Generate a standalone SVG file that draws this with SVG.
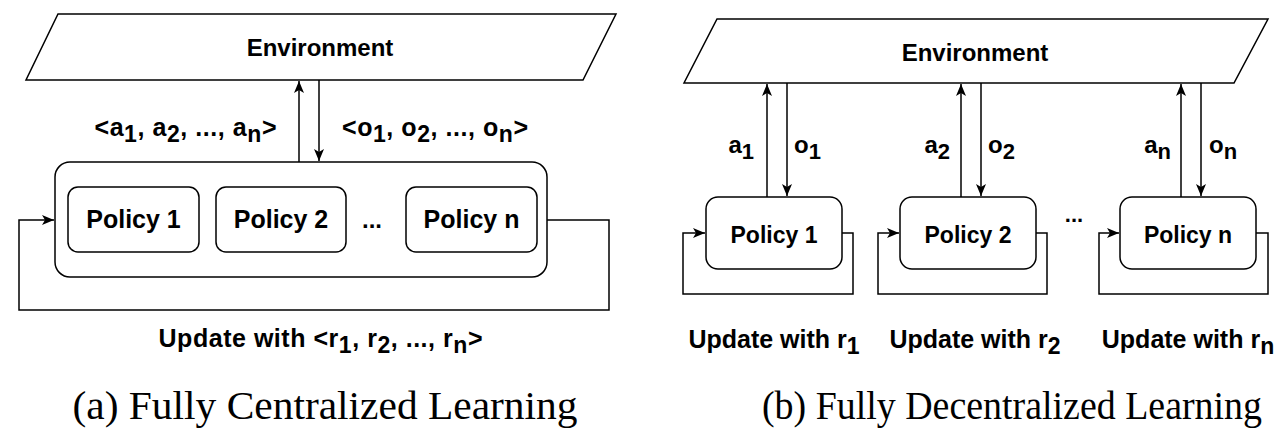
<svg xmlns="http://www.w3.org/2000/svg" width="1286" height="444" viewBox="0 0 1286 444">
<defs>
<style>
.shape{fill:#fff;stroke:#000;stroke-width:1.5}
.line{fill:none;stroke:#000;stroke-width:1.5}
.t{font-family:"Liberation Sans",Arial,sans-serif;font-weight:bold;fill:#000}
.cap{font-family:"Liberation Serif","Times New Roman",serif;fill:#000}
</style>
<marker id="arr" markerUnits="userSpaceOnUse" markerWidth="14" markerHeight="12" refX="12" refY="5" orient="auto" viewBox="0 0 14 10" overflow="visible">
<path d="M0,0 L12,5 L0,10 L3,5 z" fill="#000"/>
</marker>
</defs>
<rect width="1286" height="444" fill="#fff"/>

<!-- Panel (a) -->
<g id="envA">
<polygon class="shape" points="58,14 616,14 583,80 26,80"/>
<text class="t" x="320" y="56" font-size="24" text-anchor="middle">Environment</text>
</g>
<g id="containerA">
<rect class="shape" x="55" y="162" width="492" height="115" rx="15"/>
</g>
<g id="policyA1">
<rect class="shape" x="68" y="187" width="131" height="65" rx="10"/>
<text class="t" x="133.5" y="228" font-size="25" text-anchor="middle">Policy 1</text>
</g>
<g id="policyA2">
<rect class="shape" x="216" y="187" width="130" height="65" rx="10"/>
<text class="t" x="281" y="228" font-size="25" text-anchor="middle">Policy 2</text>
</g>
<g id="dotsA">
<text class="t" x="372" y="228" font-size="24" text-anchor="middle">...</text>
</g>
<g id="policyAn">
<rect class="shape" x="406" y="187" width="131" height="65" rx="10"/>
<text class="t" x="471.5" y="228" font-size="25" text-anchor="middle">Policy n</text>
</g>
<g id="connectorsA">
<line class="line" x1="299" y1="162" x2="299" y2="81" marker-end="url(#arr)"/>
<line class="line" x1="319" y1="80" x2="319" y2="161" marker-end="url(#arr)"/>
<polyline class="line" points="547,220 609,220 609,310 19,310 19,220 54,220" marker-end="url(#arr)"/>
</g>
<g id="labelsA" class="t" font-size="25">
<text x="185.5" y="136" text-anchor="middle" textLength="182">&lt;a<tspan font-size="23" dy="6">1</tspan><tspan dy="-6">, a</tspan><tspan font-size="23" dy="6">2</tspan><tspan dy="-6">, ..., a</tspan><tspan font-size="23" dy="6">n</tspan><tspan dy="-6">&gt;</tspan></text>
<text x="435" y="136" text-anchor="middle" textLength="186">&lt;o<tspan font-size="23" dy="6">1</tspan><tspan dy="-6">, o</tspan><tspan font-size="23" dy="6">2</tspan><tspan dy="-6">, ..., o</tspan><tspan font-size="23" dy="6">n</tspan><tspan dy="-6">&gt;</tspan></text>
<text x="320.5" y="347" text-anchor="middle" textLength="324">Update with &lt;r<tspan font-size="23" dy="6">1</tspan><tspan dy="-6">, r</tspan><tspan font-size="23" dy="6">2</tspan><tspan dy="-6">, ..., r</tspan><tspan font-size="23" dy="6">n</tspan><tspan dy="-6">&gt;</tspan></text>
</g>
<text class="cap" x="325" y="419" font-size="40" text-anchor="middle" textLength="505" lengthAdjust="spacingAndGlyphs">(a) Fully Centralized Learning</text>

<!-- Panel (b) -->
<g id="envB">
<polygon class="shape" points="717,19 1268,19 1234,83 684,83"/>
<text class="t" x="975" y="61" font-size="24" text-anchor="middle">Environment</text>
</g>
<g id="policyB1">
<rect class="shape" x="706" y="197" width="136" height="72" rx="12"/>
<text class="t" x="774" y="243" font-size="23" text-anchor="middle">Policy 1</text>
</g>
<g id="policyB2">
<rect class="shape" x="900" y="197" width="136" height="72" rx="12"/>
<text class="t" x="968" y="243" font-size="23" text-anchor="middle">Policy 2</text>
</g>
<g id="dotsB">
<text class="t" x="1074" y="222" font-size="22" text-anchor="middle">...</text>
</g>
<g id="policyBn">
<rect class="shape" x="1120" y="197" width="136" height="72" rx="12"/>
<text class="t" x="1188" y="243" font-size="23" text-anchor="middle">Policy n</text>
</g>
<g id="connectorsB">
<line class="line" x1="767" y1="197" x2="767" y2="84" marker-end="url(#arr)"/>
<line class="line" x1="787" y1="83" x2="787" y2="196" marker-end="url(#arr)"/>
<line class="line" x1="961" y1="197" x2="961" y2="84" marker-end="url(#arr)"/>
<line class="line" x1="981" y1="83" x2="981" y2="196" marker-end="url(#arr)"/>
<line class="line" x1="1181" y1="197" x2="1181" y2="84" marker-end="url(#arr)"/>
<line class="line" x1="1201" y1="83" x2="1201" y2="196" marker-end="url(#arr)"/>
<polyline class="line" points="842,233 853,233 853,294 683,294 683,233 705,233" marker-end="url(#arr)"/>
<polyline class="line" points="1036,233 1047,233 1047,294 878,294 878,233 899,233" marker-end="url(#arr)"/>
<polyline class="line" points="1256,233 1268,233 1268,294 1099,294 1099,233 1119,233" marker-end="url(#arr)"/>
</g>
<g id="labelsB" class="t" font-size="24">
<text x="754" y="153" text-anchor="end">a<tspan font-size="22" dy="6">1</tspan></text>
<text x="794" y="153">o<tspan font-size="22" dy="6">1</tspan></text>
<text x="950" y="153" text-anchor="end">a<tspan font-size="22" dy="6">2</tspan></text>
<text x="988" y="153">o<tspan font-size="22" dy="6">2</tspan></text>
<text x="1171" y="153" text-anchor="end">a<tspan font-size="22" dy="6">n</tspan></text>
<text x="1209" y="153">o<tspan font-size="22" dy="6">n</tspan></text>
</g>
<g id="updatesB" class="t" font-size="25">
<text x="774" y="348" text-anchor="middle">Update with r<tspan font-size="23" dy="6">1</tspan></text>
<text x="975" y="348" text-anchor="middle">Update with r<tspan font-size="23" dy="6">2</tspan></text>
<text x="1188" y="348" text-anchor="middle">Update with r<tspan font-size="23" dy="6">n</tspan></text>
</g>
<text class="cap" x="1012" y="419" font-size="39" text-anchor="middle" textLength="500" lengthAdjust="spacingAndGlyphs">(b) Fully Decentralized Learning</text>
</svg>
